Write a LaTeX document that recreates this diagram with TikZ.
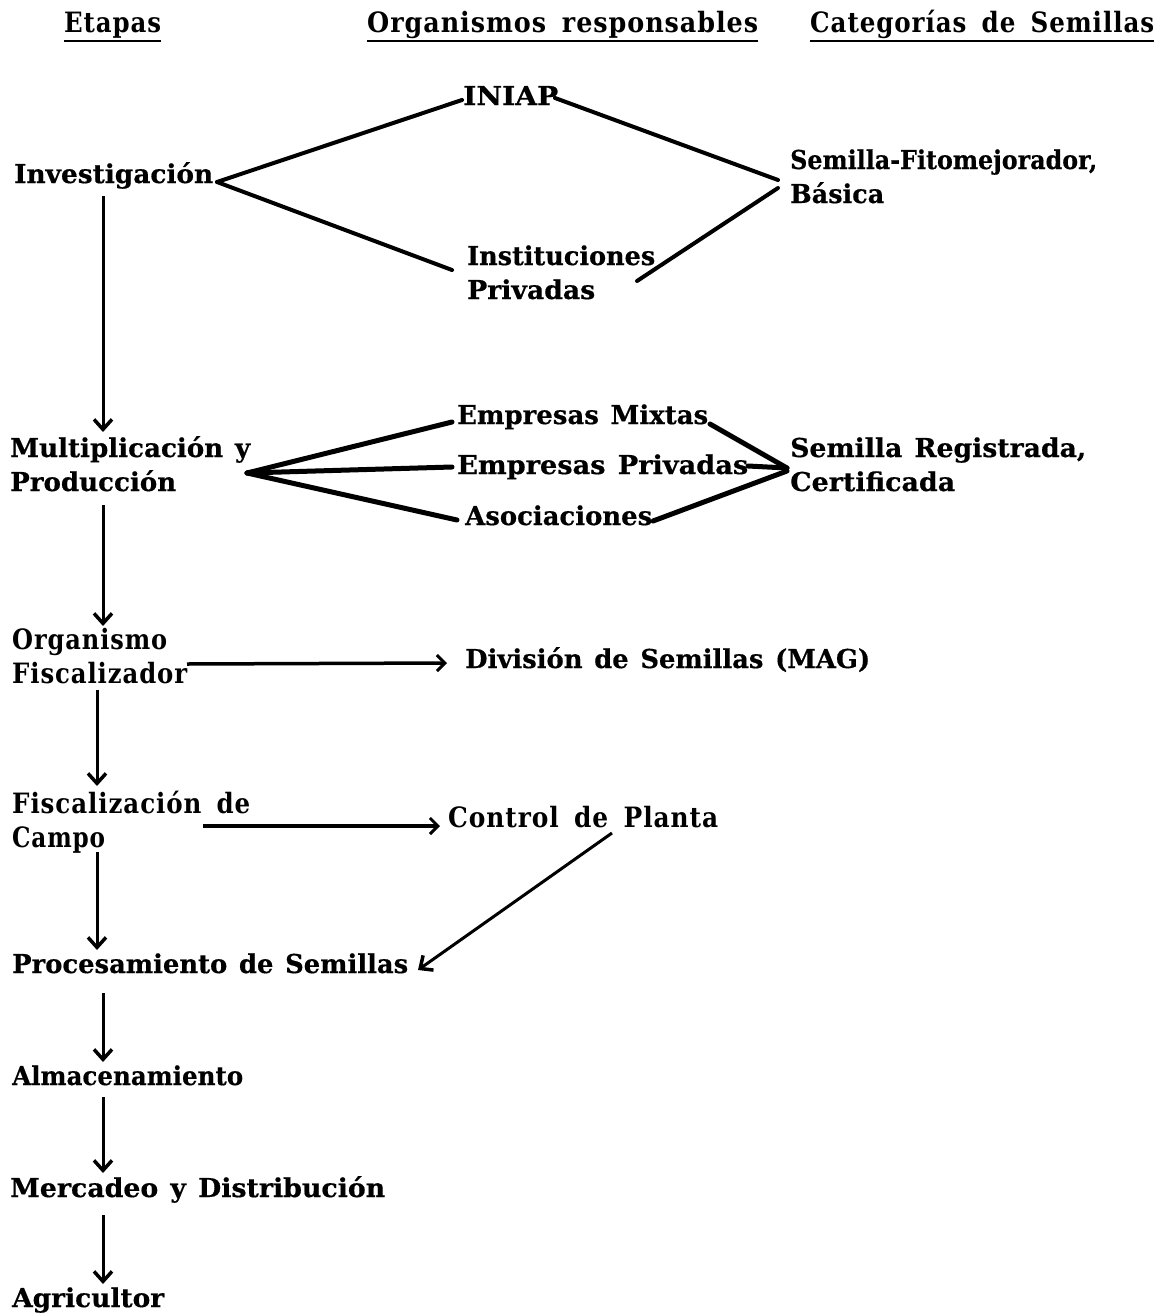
\documentclass[tikz,border=0pt]{standalone}
\usepackage{fontspec}
\usepackage{graphicx}
\usetikzlibrary{arrows.meta,calc}
\newfontfamily\mainf{DejaVu Serif}[WordSpace=1.3,BoldFeatures={FakeBold=0.5}]
\newfontfamily\condf{DejaVu Serif}[FakeStretch=0.8,LetterSpace=3,WordSpace=1.6]
\newcommand\fitw[2]{\resizebox{#1pt}{\height}{#2}}
\newcommand\twolines[2]{\begin{tabular}[t]{@{}l@{}}#1\\#2\end{tabular}}
\begin{document}
\begin{tikzpicture}[x=1pt,y=-1pt,
  lbl/.style={inner sep=0pt, anchor=base west, font=\mainf\bfseries\fontsize{26}{34}\selectfont},
  clbl/.style={lbl, font=\condf\bfseries\fontsize{28}{34}\selectfont},
  thick line/.style={line width=4pt, line cap=round},
  heavy line/.style={line width=5pt, line cap=round},
  uline/.style={line width=2.5pt},
  varr/.style={line width=3pt, -{Straight Barb[length=10pt,width=18pt,line width=3.5pt]}},
  harr/.style={line width=3.5pt, -{Straight Barb[length=8pt,width=16pt,line width=3pt]}}
]
\useasboundingbox (0,0) rectangle (1169,1314);

% headers
\node[clbl] (hEt) at (64,33) {\fitw{97}{Etapas}};
\node[clbl] (hOrg) at (367,33) {\fitw{391}{Organismos responsables}};
\node[clbl] (hCat) at (810,33) {\fitw{344}{Categorías de Semillas}};
\draw[uline] ($(hEt.base west)+(0,8)$) -- ($(hEt.base east)+(0,8)$);
\draw[uline] ($(hOrg.base west)+(0,8)$) -- ($(hOrg.base east)+(0,8)$);
\draw[uline] ($(hCat.base west)+(0,8)$) -- ($(hCat.base east)+(0,8)$);

% nodes
\node[lbl] (iniap) at (463,105) {\fitw{95}{INIAP}};
\node[lbl] (inv) at (14,183) {\fitw{199}{Investigación}};
\node[lbl] (basica) at (790,169) {\twolines{\fitw{307}{Semilla-Fitomejorador,}}{\fitw{94}{Básica}}};
\node[lbl] (inst) at (467,265) {\twolines{\fitw{188}{Instituciones}}{\fitw{128}{Privadas}}};
\node[lbl] (mult) at (10,457) {\twolines{\fitw{240}{Multiplicación y}}{\fitw{166}{Producción}}};
\node[lbl] (emx) at (457,424) {\fitw{251}{Empresas Mixtas}};
\node[lbl] (epr) at (457,474) {\fitw{291}{Empresas Privadas}};
\node[lbl] (aso) at (465,525) {\fitw{187}{Asociaciones}};
\node[lbl] (reg) at (790,457) {\twolines{\fitw{296}{Semilla Registrada,}}{\fitw{165}{Certificada}}};
\node[clbl] (org) at (12,649) {\twolines{\fitw{155}{Organismo}}{\fitw{175}{Fiscalizador}}};
\node[lbl] (div) at (465,668) {\fitw{405}{División de Semillas (MAG)}};
\node[clbl] (fisc) at (12,813) {\twolines{\fitw{238}{Fiscalización de}}{\fitw{93}{Campo}}};
\node[clbl] (ctrl) at (448,827) {\fitw{270}{Control de Planta}};
\node[lbl] (proc) at (12,973) {\fitw{396}{Procesamiento de Semillas}};
\node[lbl] (alm) at (12,1085) {\fitw{231}{Almacenamiento}};
\node[lbl] (merc) at (10,1197) {\fitw{375}{Mercadeo y Distribución}};
\node[lbl] (agr) at (12,1307) {\fitw{152}{Agricultor}};

% research branch
\draw[thick line] ($(inv.base west)+(203,-1)$) -- ($(iniap.base west)+(-1,-5)$);
\draw[thick line] ($(inv.base west)+(203,-1)$) -- ($(inst.base west)+(-15,5)$);
\draw[thick line] ($(iniap.base west)+(92,-7)$) -- ($(basica.base west)+(-12,11)$);
\draw[thick line] ($(inst.base west)+(170,16)$) -- ($(basica.base west)+(-12,19)$);

% production branch
\draw[heavy line] ($(mult.base west)+(237,16)$) -- ($(emx.base west)+(-5,-2)$);
\draw[heavy line] ($(mult.base west)+(237,16)$) -- ($(epr.base west)+(-5,-7)$);
\draw[heavy line] ($(mult.base west)+(237,16)$) -- ($(aso.base west)+(-8,-5)$);
\draw[heavy line] ($(emx.base west)+(253,0)$) -- ($(reg.base west)+(-3,11)$);
\draw[heavy line] ($(epr.base west)+(291,-8)$) -- ($(reg.base west)+(-3,11)$);
\draw[heavy line] ($(aso.base west)+(188,-4)$) -- ($(reg.base west)+(-3,14)$);

% vertical chain
\draw[varr] ($(inv.base west)+(89,13)$) -- ($(mult.base west)+(93,-25)$);
\draw[varr] ($(mult.base west)+(93,48)$) -- ($(org.base west)+(91,-23)$);
\draw[varr] ($(org.base west)+(85,41)$) -- ($(fisc.base west)+(85,-27)$);
\draw[varr] ($(fisc.base west)+(85,39)$) -- ($(proc.base west)+(85,-23)$);
\draw[varr] ($(proc.base west)+(91,20)$) -- ($(alm.base west)+(91,-23)$);
\draw[varr] ($(alm.base west)+(91,12)$) -- ($(merc.base west)+(93,-24)$);
\draw[varr] ($(merc.base west)+(93,18)$) -- ($(agr.base west)+(91,-23)$);

% control arrows
\draw[harr] ($(org.base west)+(175,15)$) -- ($(div.base west)+(-18,-5)$);
\draw[harr, line width=4pt] ($(fisc.base west)+(191,13)$) -- ($(ctrl.base west)+(-8,-1)$);
\draw[varr] ($(ctrl.base west)+(164,6)$) -- ($(proc.base west)+(406,-3)$);
\end{tikzpicture}
\end{document}
